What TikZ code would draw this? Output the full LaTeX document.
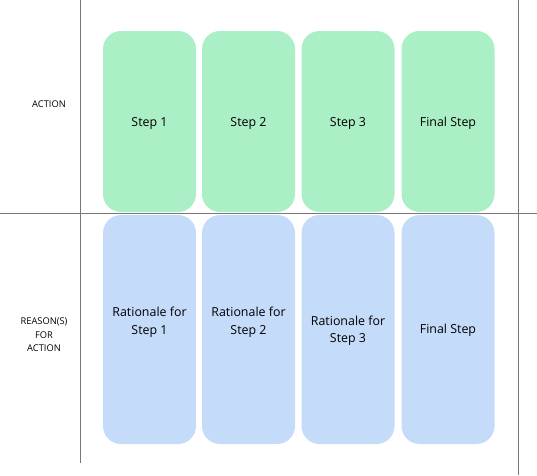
\documentclass[tikz,border=0pt]{standalone}
\usepackage{fontspec}
\setmainfont{Open Sans}
\definecolor{stepgreen}{RGB}{171,239,198}
\definecolor{stepblue}{RGB}{197,219,250}
\definecolor{rulegrey}{RGB}{120,120,120}
\begin{document}
\begin{tikzpicture}[x=1pt,y=-1pt,
  box/.style={rounded corners=18pt, minimum width=93pt, inner sep=0pt, align=center, font=\fontsize{12.4}{17.5}\selectfont, text=black},
  actbox/.style={box, fill=stepgreen, minimum height=181pt},
  reabox/.style={box, fill=stepblue, minimum height=229pt},
  rowlabel/.style={align=center, font=\fontsize{9.3}{13.5}\selectfont},
  rule/.style={draw=rulegrey, line width=0.9pt}]
\useasboundingbox (0,0) rectangle (537,475);
\coordinate (lt) at (80,0);
\coordinate (lb) at (80,463);
\coordinate (rt) at (518,0);
\coordinate (rb) at (518,475);
\coordinate (hl) at (0,213.5);
\coordinate (hr) at (537,213.5);
\node[actbox] (a1) at (149.5,121.5) {};
\node[actbox] (a2) at (248.5,121.5) {};
\node[actbox] (a3) at (348,121.5) {};
\node[actbox] (a4) at (448,121.5) {};
\node[box] (s1) at (149.5,123.5) {Step 1};
\node[box] (s2) at (248.5,123.5) {Step 2};
\node[box] (s3) at (348,123.5) {Step 3};
\node[box] (s4) at (448,123.5) {Final Step};
\node[reabox] (r1) at (149.5,329.5) {};
\node[reabox] (r2) at (248.5,329.5) {};
\node[reabox] (r3) at (348,329.5) {};
\node[reabox] (r4) at (448,329.5) {};
\node[box] (t1) at (149.5,322) {Rationale for\\Step 1};
\node[box] (t2) at (248.5,322) {Rationale for\\Step 2};
\node[box] (t3) at (348,330.5) {Rationale for\\Step 3};
\node[box] (t4) at (448,330.5) {Final Step};
\node[rowlabel] (la) at (49,104) {ACTION};
\node[rowlabel] (lr) at (44,335) {REASON(S)\\FOR\\ACTION};
\draw[rule] (lt) -- (lb);
\draw[rule] (rt) -- (rb);
\draw[rule] (hl) -- (hr);
\end{tikzpicture}
\end{document}
